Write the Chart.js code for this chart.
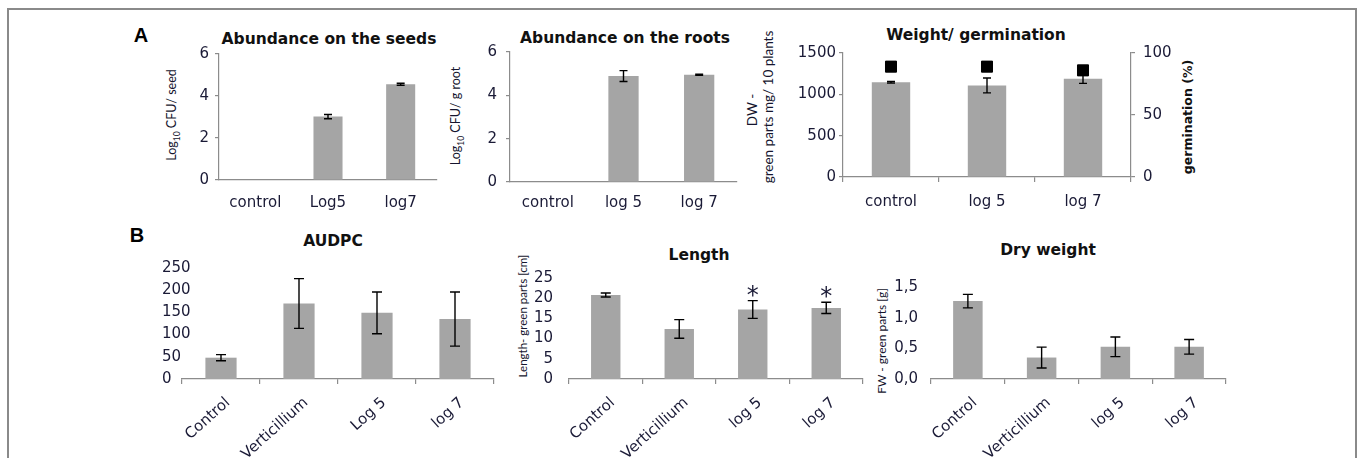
<!DOCTYPE html>
<html>
<head>
<meta charset="utf-8">
<script src="https://cdn.jsdelivr.net/npm/chart.js@4"></script>
<style>
  html, body { margin: 0; padding: 0; background: #fff; overflow: hidden; }
  body { width: 1357px; height: 458px; position: relative; }
  #frame { position: absolute; left: 7px; top: 8px; width: 1350px; height: 520px;
           border: 2px solid #8a8a8a; box-sizing: border-box; }
  .t { position: absolute; white-space: nowrap; transform: translate(-50%, -50%); color: #111; }
  .ttl { font: bold 15.5px "DejaVu Sans"; }
  .let { font: bold 20px "Liberation Sans"; color: #000; }
  .yt { font: 12.5px Lato; color: #15152e; }
  .yt sub { font-size: 8.5px; }
  .rot { transform: translate(-50%, -50%) rotate(-90deg); }
  canvas { position: absolute; }
</style>
</head>
<body>
<div id="frame"></div>

<div class="t let" style="left:141px;top:35px">A</div>
<div class="t let" style="left:137px;top:235px">B</div>

<div class="t ttl" style="left:329px;top:39px">Abundance on the seeds</div>
<div class="t ttl" style="left:625px;top:38px">Abundance on the roots</div>
<div class="t ttl" style="left:976px;top:35px">Weight/ germination</div>
<div class="t ttl" style="left:333px;top:241px">AUDPC</div>
<div class="t ttl" style="left:699px;top:255px">Length</div>
<div class="t ttl" style="left:1048px;top:250px">Dry weight</div>

<div class="t yt rot" style="left:173px;top:115px">Log<sub>10</sub> CFU/ seed</div>
<div class="t yt rot" style="left:457px;top:116px">Log<sub>10</sub> CFU/ g root</div>
<div class="t yt rot" style="left:752px;top:110px;font-size:13.5px">DW -</div>
<div class="t yt rot" style="left:768px;top:107px;font-size:13.5px">green parts mg/ 10 plants</div>
<div class="t rot" style="left:1187px;top:117px;font:bold 12.5px 'DejaVu Sans';color:#111">germination (%)</div>
<div class="t yt rot" style="left:522px;top:316px;font-size:11.5px">Length- green parts [cm]</div>
<div class="t yt rot" style="left:881px;top:341px;font-size:12px">FW - green parts [g]</div>

<script>
// A: bacterial abundance, weight and germination
const seedCats = ['control', 'Log5', 'log7'];
const seedVals = [0, 3.02, 4.56];
const seedErr  = [0, 0.1, 0.05];

const rootCats = ['control', 'log 5', 'log 7'];
const rootVals = [0, 4.89, 4.95];
const rootErr  = [0, 0.25, 0.02];

const weightCats = ['control', 'log 5', 'log 7'];
const weightVals = [1145, 1108, 1188];
const weightErr  = [10, 90, 55];
const germVals   = [89, 89, 86];

// B: Verticillium infection
const infCats    = ['Control', 'Verticillium', 'Log 5', 'log 7'];
const audpcVals  = [48, 170, 149, 135];
const audpcErr   = [7, 56, 47, 61];

const lenCats    = ['Control', 'Verticillium', 'log 5', 'log 7'];
const lenVals    = [20.8, 12.4, 17.2, 17.6];
const lenErr     = [0.5, 2.3, 2.2, 1.4];
const lenSig     = [false, false, true, true];

const dryVals    = [1.27, 0.35, 0.525, 0.525];
const dryErr     = [0.11, 0.17, 0.16, 0.12];

const INK = '#1a1a36', AXIS = '#8c8c8c', BAR = '#a5a5a5';
const TICK_FONT = { family: 'DejaVu Sans', size: 15 };

// error bars + significance stars, placed from the data through the y scale
const errorBars = {
  id: 'errorBars',
  afterDatasetsDraw(chart, args, opts) {
    if (!opts.err) return;
    const meta = chart.getDatasetMeta(0);
    const ys = chart.scales[meta.yAxisID];
    const vals = chart.data.datasets[0].data;
    const ctx = chart.ctx;
    const cap = opts.cap || 4;
    ctx.save();
    ctx.strokeStyle = '#000';
    ctx.lineWidth = 1.4;
    opts.err.forEach((e, i) => {
      if (!e) return;
      const x = meta.data[i].x;
      const y1 = ys.getPixelForValue(vals[i] + e);
      const y2 = ys.getPixelForValue(vals[i] - e);
      ctx.beginPath();
      ctx.moveTo(x, y1); ctx.lineTo(x, y2);
      ctx.moveTo(x - cap, y1); ctx.lineTo(x + cap, y1);
      ctx.moveTo(x - cap, y2); ctx.lineTo(x + cap, y2);
      ctx.stroke();
    });
    if (opts.sig) {
      ctx.fillStyle = INK;
      ctx.font = '24px "DejaVu Sans"';
      ctx.textAlign = 'center';
      ctx.textBaseline = 'alphabetic';
      opts.sig.forEach((s, i) => {
        if (!s) return;
        const x = meta.data[i].x;
        const top = ys.getPixelForValue(vals[i] + opts.err[i]);
        ctx.fillText('*', x, top + 2);
      });
    }
    ctx.restore();
  }
};

function makeChart(box, area, labels, vals, o) {
  const cv = document.createElement('canvas');
  cv.width = box.w; cv.height = box.h;
  cv.style.left = box.x + 'px';
  cv.style.top = box.y + 'px';
  document.body.appendChild(cv);

  const datasets = [{
    type: 'bar', data: vals, yAxisID: 'y', backgroundColor: BAR, borderWidth: 0,
    barPercentage: 0.4, categoryPercentage: 1, order: 2
  }];
  const scales = {
    x: {
      offset: true,
      border: { display: true, color: AXIS, width: 1.2 },
      grid: { display: o.xTicks, offset: true, drawOnChartArea: false, drawTicks: o.xTicks,
              tickLength: 5, color: AXIS, lineWidth: 1.2 },
      ticks: { color: INK, font: TICK_FONT, padding: o.xPad, autoSkip: false,
               labelOffset: o.rot ? 7 : 0,
               minRotation: o.rot || 0, maxRotation: o.rot || 0 },
      afterFit: s => { s.height = box.y + box.h - area.b; }
    },
    y: {
      min: 0, max: o.max,
      border: { display: o.yLine, color: AXIS, width: 1.2 },
      grid: { display: o.yLine, drawOnChartArea: false, drawTicks: o.yLine, tickLength: 4,
              color: AXIS, lineWidth: 1.2 },
      ticks: { stepSize: o.step, color: INK, font: TICK_FONT, padding: o.yPad, autoSkip: false,
               mirror: !!o.mirror, callback: o.fmt || (v => v) },
      afterFit: s => { s.width = area.l - box.x; }
    }
  };
  let padRight = box.x + box.w - area.r;
  if (o.right) {
    datasets.push({
      type: 'line', data: o.right.vals, yAxisID: 'y2', showLine: false,
      pointStyle: 'rect', pointRadius: 7.8, backgroundColor: '#000', borderColor: '#000', order: 1
    });
    scales.y2 = {
      position: 'right', min: 0, max: o.right.max,
      border: { display: true, color: AXIS, width: 1.2 },
      grid: { display: true, drawOnChartArea: false, drawTicks: true, tickLength: 4,
              color: AXIS, lineWidth: 1.2 },
      ticks: { stepSize: o.right.step, color: INK, font: TICK_FONT, padding: 8, autoSkip: false },
      afterFit: s => { s.width = box.x + box.w - area.r; }
    };
    padRight = 0;
  }

  return new Chart(cv, {
    data: { labels, datasets },
    options: {
      responsive: false, animation: false, devicePixelRatio: 1,
      layout: { padding: { top: area.t - box.y, right: padRight, left: 0, bottom: 0 } },
      plugins: {
        legend: { display: false }, tooltip: { enabled: false },
        errorBars: { err: o.err, sig: o.sig, cap: o.cap }
      },
      scales
    },
    plugins: [errorBars]
  });
}

makeChart({ x: 150, y: 25, w: 300, h: 200 }, { l: 219, t: 54, r: 437, b: 180 },
  seedCats, seedVals,
  { max: 6, step: 2, err: seedErr, xTicks: false, xPad: 14, yLine: true, yPad: 6 });

makeChart({ x: 455, y: 25, w: 300, h: 200 }, { l: 510, t: 52, r: 737, b: 182 },
  rootCats, rootVals,
  { max: 6, step: 2, err: rootErr, xTicks: false, xPad: 12, yLine: true, yPad: 9 });

makeChart({ x: 740, y: 25, w: 460, h: 200 }, { l: 843, t: 53, r: 1131, b: 177 },
  weightCats, weightVals,
  { max: 1500, step: 500, err: weightErr, xTicks: true, xPad: 11, yLine: true, yPad: 3,
    right: { vals: germVals, max: 100, step: 50 } });

// AUDPC labels are left-aligned and run past the axis start, so they are mirrored back out
makeChart({ x: 162, y: 240, w: 358, h: 218 }, { l: 182, t: 268, r: 494, b: 379 },
  infCats, audpcVals,
  { max: 250, step: 50, err: audpcErr, cap: 5, xTicks: true, xPad: 10, rot: 42,
    yLine: false, yPad: -20, mirror: true });

makeChart({ x: 520, y: 240, w: 370, h: 218 }, { l: 569, t: 278, r: 863, b: 379 },
  lenCats, lenVals,
  { max: 25, step: 5, err: lenErr, sig: lenSig, cap: 5, xTicks: true, xPad: 10, rot: 42,
    yLine: false, yPad: 16 });

makeChart({ x: 895, y: 240, w: 365, h: 218 }, { l: 931, t: 287, r: 1226, b: 379 },
  lenCats, dryVals,
  { max: 1.5, step: 0.5, err: dryErr, cap: 5, xTicks: true, xPad: 10, rot: 42,
    yLine: false, yPad: 13, fmt: v => v.toFixed(1).replace('.', ',') });
</script>
</body>
</html>
